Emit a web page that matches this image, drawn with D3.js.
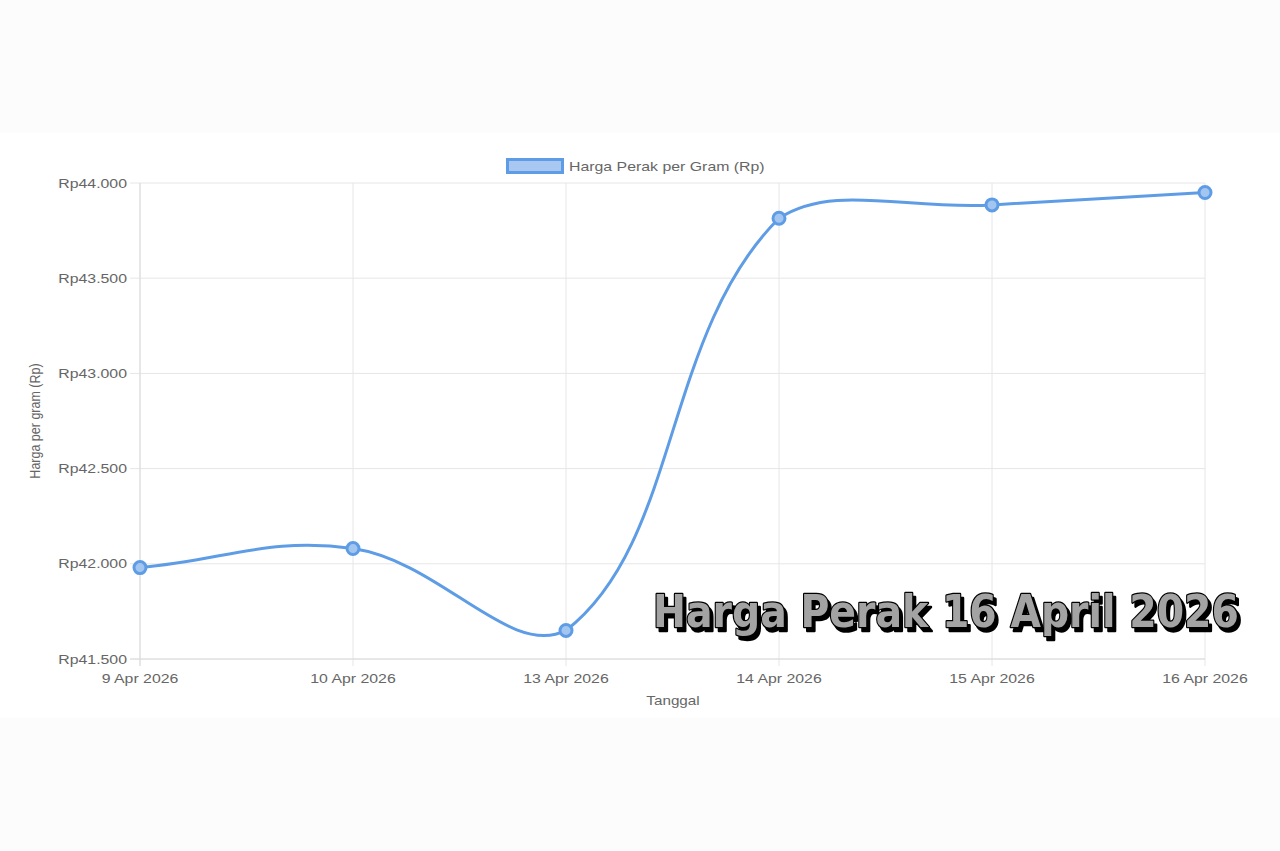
<!DOCTYPE html>
<html><head><meta charset="utf-8">
<script src="https://cdn.jsdelivr.net/npm/d3@7"></script>
<style>html,body{margin:0;padding:0;background:#fcfcfc;}svg{display:block;}</style>
</head><body>
<script>
const dates = ["9 Apr 2026","10 Apr 2026","13 Apr 2026","14 Apr 2026","15 Apr 2026","16 Apr 2026"];
const prices = [41980, 42080, 41650, 43815, 43885, 43950];
const yTicks = [41500, 42000, 42500, 43000, 43500, 44000];
const seriesLabel = "Harga Perak per Gram (Rp)";
const yTitle = "Harga per gram (Rp)";
const xTitle = "Tanggal";
const overlayTitle = "Harga Perak 16 April 2026";

(function () {
const W = 1280, H = 851;
const SX = 1.22; // horizontal text stretch
const pLeft = 140, pRight = 1205, pTop = 183, pBottom = 659;
const lineColor = "#5e9de6";
const textColor = "#666";
const gridColor = "#e6e6e6";

const svg = d3.select("body").append("svg").attr("width", W).attr("height", H);
const defs = svg.append("defs");
const f = defs.append("filter").attr("id", "shadow").attr("filterUnits", "userSpaceOnUse")
  .attr("x", 0).attr("y", 0).attr("width", W).attr("height", H);
f.append("feDropShadow").attr("dx", 3).attr("dy", 4).attr("stdDeviation", 0.6).attr("flood-color", "#000").attr("flood-opacity", 1);

svg.append("rect").attr("x",0).attr("y",0).attr("width",W).attr("height",H).attr("fill","#fcfcfc");
svg.append("rect").attr("x",0).attr("y",133).attr("width",W).attr("height",585).attr("fill","#ffffff");

const x = d3.scalePoint().domain(dates).range([pLeft, pRight]);
const y = d3.scaleLinear().domain([41500, 44000]).range([pBottom, pTop]);

function stretchedText(g, tx, ty, txt, anchor, size) {
  return g.append("text")
    .attr("transform", `translate(${tx},${ty}) scale(${SX},1)`)
    .attr("text-anchor", anchor)
    .attr("font-family", "Liberation Sans, Arial, sans-serif")
    .attr("font-size", size)
    .attr("fill", textColor)
    .text(txt);
}

// grid
const grid = svg.append("g");
grid.selectAll("line.h").data(yTicks).join("line")
  .attr("x1", pLeft - 10).attr("x2", pRight)
  .attr("y1", d => y(d)).attr("y2", d => y(d))
  .attr("stroke", gridColor).attr("stroke-width", 1);
grid.selectAll("line.v").data(dates).join("line")
  .attr("x1", d => x(d)).attr("x2", d => x(d))
  .attr("y1", pTop).attr("y2", pBottom + 7)
  .attr("stroke", gridColor).attr("stroke-width", 1);
grid.append("line").attr("x1", pLeft).attr("x2", pLeft).attr("y1", pTop).attr("y2", pBottom+7).attr("stroke", "#dadada");
grid.append("line").attr("x1", pLeft-10).attr("x2", pRight).attr("y1", pBottom).attr("y2", pBottom).attr("stroke", "#dadada");

// y tick labels
const fmt = v => "Rp" + d3.format(",")(v).replace(/,/g, ".");
const yl = svg.append("g");
yTicks.forEach(t => stretchedText(yl, 127, y(t) + 4.5, fmt(t), "end", 13));

// x tick labels
const xl = svg.append("g");
dates.forEach(d => stretchedText(xl, x(d), 683, d, "middle", 13));

// axis titles
stretchedText(svg, (pLeft + pRight) / 2 + 0.5, 705, xTitle, "middle", 12.5);
svg.append("text")
  .attr("transform", `translate(40,${(pTop + pBottom) / 2}) rotate(-90) scale(1,${SX})`)
  .attr("text-anchor", "middle")
  .attr("font-family", "Liberation Sans, Arial, sans-serif")
  .attr("font-size", 12.5)
  .attr("fill", textColor)
  .text(yTitle);

// legend
const lg = svg.append("g");
lg.append("rect").attr("x", 507.5).attr("y", 159.5).attr("width", 55).attr("height", 13)
  .attr("fill", "#a8c8f1").attr("stroke", lineColor).attr("stroke-width", 3);
stretchedText(lg, 569, 171, seriesLabel, "start", 13);

// Chart.js-like spline (tension 0.4)
const pts = dates.map((d, i) => ({ x: x(d), y: y(prices[i]) }));
const tension = 0.4;
const clampY = v => Math.max(pTop, Math.min(pBottom, v));
const cps = pts.map((p, i) => {
  const prev = pts[i - 1] || p, next = pts[i + 1] || p;
  const d01 = Math.hypot(p.x - prev.x, p.y - prev.y);
  const d12 = Math.hypot(next.x - p.x, next.y - p.y);
  let s01 = d01 / (d01 + d12), s12 = d12 / (d01 + d12);
  if (isNaN(s01)) s01 = 0; if (isNaN(s12)) s12 = 0;
  const fa = tension * s01, fb = tension * s12;
  return {
    px: p.x - fa * (next.x - prev.x), py: clampY(p.y - fa * (next.y - prev.y)),
    nx: p.x + fb * (next.x - prev.x), ny: clampY(p.y + fb * (next.y - prev.y))
  };
});
const path = d3.path();
path.moveTo(pts[0].x, pts[0].y);
for (let i = 1; i < pts.length; i++) {
  path.bezierCurveTo(cps[i - 1].nx, cps[i - 1].ny, cps[i].px, cps[i].py, pts[i].x, pts[i].y);
}
svg.append("path").attr("d", path.toString()).attr("fill", "none")
  .attr("stroke", lineColor).attr("stroke-width", 3).attr("stroke-linecap", "round");

// points
svg.append("g").selectAll("circle").data(prices).join("circle")
  .attr("cx", (d, i) => x(dates[i])).attr("cy", d => y(d)).attr("r", 6)
  .attr("fill", "#a3c6f0").attr("stroke", lineColor).attr("stroke-width", 3);

// overlay title: shadow filter on outer group, horizontal fit on inner text
const og = svg.append("g").attr("filter", "url(#shadow)");
og.append("text")
  .attr("x", 653).attr("y", 627)
  .attr("font-family", "DejaVu Sans, sans-serif")
  .attr("font-weight", "bold")
  .attr("font-size", 44)
  .attr("fill", "#a3a3a3")
  .attr("stroke", "#000").attr("stroke-width", 2.5)
  .attr("paint-order", "stroke").attr("stroke-linejoin", "round")
  .text(overlayTitle)
  .each(function () {
    const w = this.getComputedTextLength();
    const target = 586;
    if (w > 0) d3.select(this).attr("transform", `translate(653,627) scale(${target / w},1) translate(-653,-627)`);
  });
})();
</script>
</body></html>
